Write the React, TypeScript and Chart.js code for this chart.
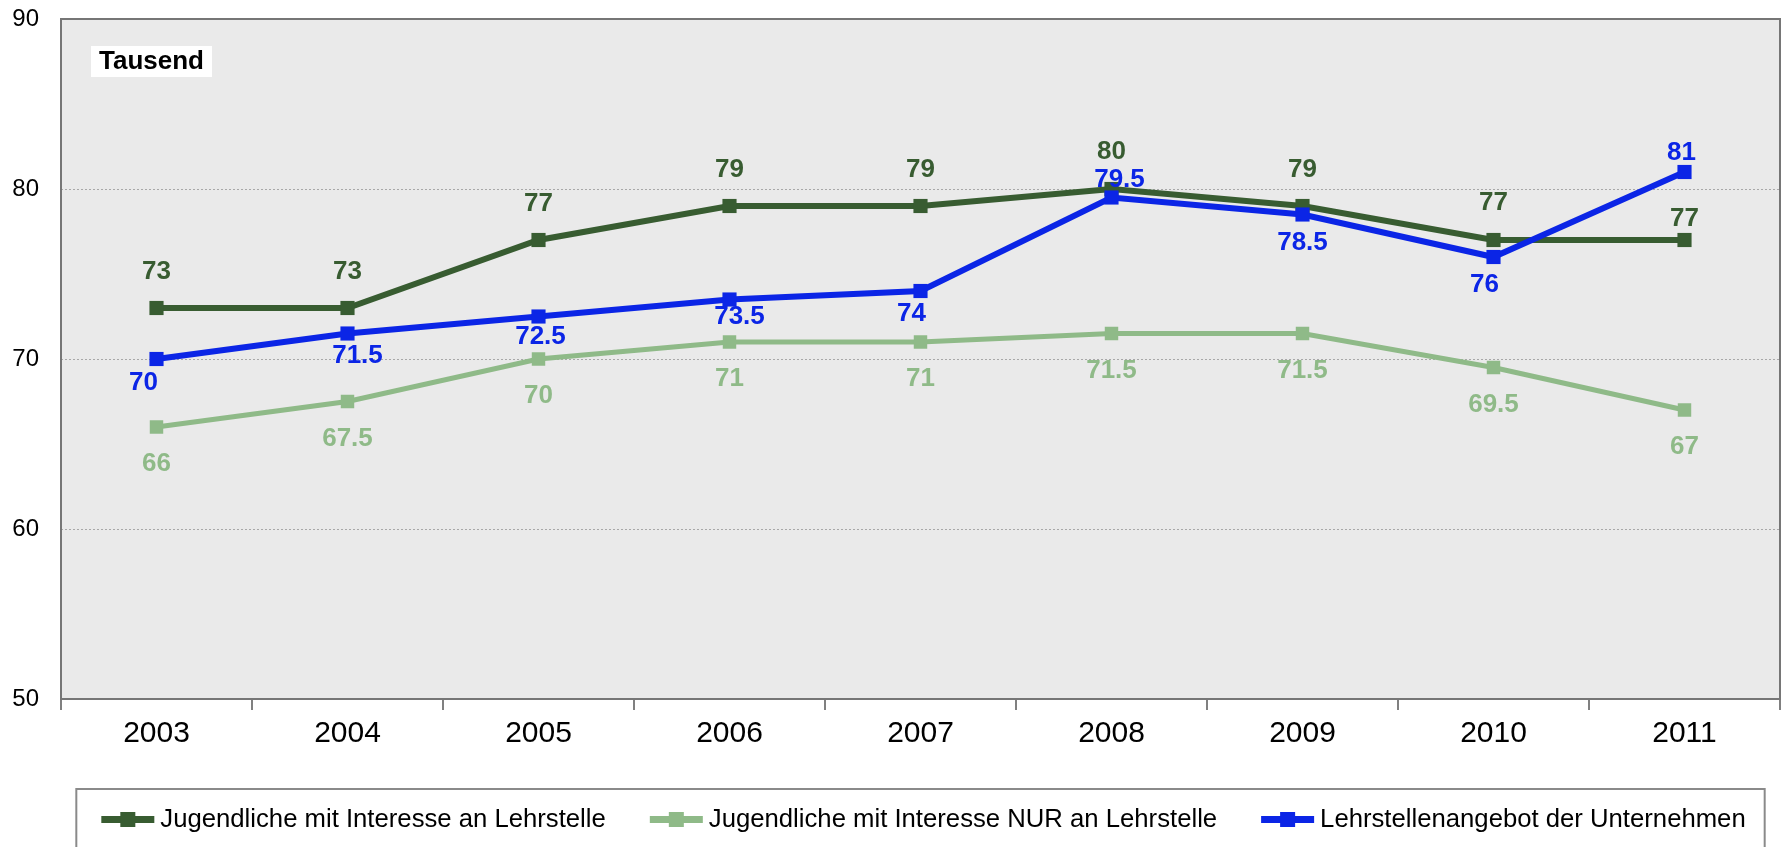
import React, { useEffect, useRef } from 'react';
import { Chart, registerables } from 'chart.js';

Chart.register(...registerables);

// ---- data ----
const years = ['2003', '2004', '2005', '2006', '2007', '2008', '2009', '2010', '2011'];
const interesseLehrstelle = [73, 73, 77, 79, 79, 80, 79, 77, 77];
const interesseNurLehrstelle = [66, 67.5, 70, 71, 71, 71.5, 71.5, 69.5, 67];
const lehrstellenangebot = [70, 71.5, 72.5, 73.5, 74, 79.5, 78.5, 76, 81];
const seriesNames = [
  'Jugendliche mit Interesse an Lehrstelle',
  'Jugendliche mit Interesse NUR an Lehrstelle',
  'Lehrstellenangebot der Unternehmen',
];
const yTickValues = [50, 60, 70, 80, 90];
const unitLabel = 'Tausend';

// ---- style ----
const DARK = '#385c31';
const LIGHT = '#8fba88';
const BLUE = '#0b25e6';
const FONT = '"Liberation Sans", Arial, Helvetica, sans-serif';

// data label placement (pixel offsets from each point), style only
const labelDx = [
  [0, 0, 0, 0, 0, 0, 0, 0, 0],
  [0, 0, 0, 0, 0, 0, 0, 0, 0],
  [-13, 10, 2, 10, -9, 8, 0, -9, -3],
];
const labelDy = [
  [-36, -36, -36, -36, -36, -37, -36, -37, -21],
  [37, 37, 37, 37, 37, 37, 37, 37, 37],
  [24, 22.5, 20, 17, 23, -17.5, 28.5, 28, -19],
];

const chartPlugin = {
  id: 'customDecor',
  beforeDraw(chart: any) {
    const { ctx, chartArea: a } = chart;
    ctx.save();
    ctx.fillStyle = '#eaeaea';
    ctx.fillRect(a.left, a.top, a.right - a.left, a.bottom - a.top);
    ctx.restore();
  },
  beforeDatasetsDraw(chart: any) {
    const { ctx, chartArea: a } = chart;
    ctx.save();
    ctx.strokeStyle = '#767676';
    ctx.lineWidth = 2;
    ctx.strokeRect(a.left, a.top, a.right - a.left, a.bottom - a.top);
    // unit label box
    ctx.font = `bold 26px ${FONT}`;
    const tw = ctx.measureText(unitLabel).width;
    const bx = a.left + 30;
    const by = a.top + 27;
    ctx.fillStyle = '#ffffff';
    ctx.fillRect(bx, by, tw + 16, 31);
    ctx.fillStyle = '#000000';
    ctx.textAlign = 'left';
    ctx.textBaseline = 'middle';
    ctx.fillText(unitLabel, bx + 8, by + 16);
    ctx.restore();
  },
  afterDatasetsDraw(chart: any) {
    const ctx = chart.ctx;
    ctx.save();
    ctx.font = `bold 26px ${FONT}`;
    ctx.textAlign = 'center';
    ctx.textBaseline = 'middle';
    chart.data.datasets.forEach((ds: any, di: number) => {
      const meta = chart.getDatasetMeta(di);
      ctx.fillStyle = ds.borderColor;
      meta.data.forEach((el: any, i: number) => {
        ctx.fillText(String(ds.data[i]), el.x + labelDx[di][i], el.y + labelDy[di][i]);
      });
    });
    ctx.restore();
  },
  afterDraw(chart: any) {
    // legend below the x axis, inside a framed box
    const { ctx, chartArea: a } = chart;
    const xScale = chart.scales.x;
    const markerW = 53;
    const markerGap = 6;
    const itemGap = 44;
    ctx.save();
    ctx.font = `25.7px ${FONT}`;
    const datasets = chart.data.datasets;
    const widths = datasets.map((ds: any) => ctx.measureText(ds.label).width);
    const total =
      widths.reduce((s: number, w: number) => s + w, 0) +
      datasets.length * (markerW + markerGap) +
      (datasets.length - 1) * itemGap;
    const cx = (a.left + a.right) / 2 + 3;
    let x = cx - total / 2;
    const cy = xScale.bottom + 63.5;
    const boxLeft = x - 25;
    const boxRight = x + total + 19;
    const boxTop = cy - 30.5;
    ctx.strokeStyle = '#8a8a8a';
    ctx.lineWidth = 2;
    ctx.strokeRect(boxLeft, boxTop, boxRight - boxLeft, 100);
    ctx.textAlign = 'left';
    ctx.textBaseline = 'middle';
    datasets.forEach((ds: any, i: number) => {
      ctx.fillStyle = ds.borderColor;
      ctx.fillRect(x, cy - 3.5, markerW, 7);
      ctx.fillRect(x + 19, cy - 7.5, 15, 15);
      ctx.fillStyle = '#000000';
      ctx.fillText(ds.label, x + markerW + markerGap, cy);
      x += markerW + markerGap + widths[i] + itemGap;
    });
    ctx.restore();
  },
};

export default function App() {
  const ref = useRef<HTMLCanvasElement>(null);

  useEffect(() => {
    document.body.style.margin = '0';
    const chart = new Chart(ref.current!, {
      type: 'line',
      data: {
        labels: years,
        datasets: [
          {
            label: seriesNames[0],
            data: interesseLehrstelle,
            borderColor: DARK,
            backgroundColor: DARK,
            borderWidth: 6,
            pointStyle: 'rect',
            pointRadius: 10,
            pointBorderWidth: 0,
            pointBackgroundColor: DARK,
            tension: 0,
            order: 2,
          },
          {
            label: seriesNames[1],
            data: interesseNurLehrstelle,
            borderColor: LIGHT,
            backgroundColor: LIGHT,
            borderWidth: 5,
            pointStyle: 'rect',
            pointRadius: 9.5,
            pointBorderWidth: 0,
            pointBackgroundColor: LIGHT,
            tension: 0,
            order: 1,
          },
          {
            label: seriesNames[2],
            data: lehrstellenangebot,
            borderColor: BLUE,
            backgroundColor: BLUE,
            borderWidth: 6,
            pointStyle: 'rect',
            pointRadius: 10,
            pointBorderWidth: 0,
            pointBackgroundColor: BLUE,
            tension: 0,
            order: 0,
          },
        ],
      },
      options: {
        responsive: false,
        animation: false,
        devicePixelRatio: 1,
        events: [],
        layout: { padding: { top: 19, right: 4, left: 0, bottom: 91 } },
        scales: {
          x: {
            offset: true,
            grid: {
              offset: true,
              drawOnChartArea: false,
              drawTicks: true,
              tickLength: 11,
              color: '#808080',
              lineWidth: 2,
            },
            border: { display: false },
            ticks: {
              font: { family: FONT, size: 30 },
              color: '#000000',
              padding: 6,
              maxRotation: 0,
              autoSkip: false,
            },
            afterFit: (s: any) => {
              s.height = 57;
            },
          },
          y: {
            min: 50,
            max: 90,
            afterBuildTicks: (s: any) => {
              s.ticks = yTickValues.map((v) => ({ value: v }));
            },
            grid: {
              drawTicks: true,
              tickLength: 22,
              tickColor: 'rgba(0,0,0,0)',
              color: (c: any) =>
                c.tick && (c.tick.value === 50 || c.tick.value === 90) ? 'rgba(0,0,0,0)' : '#a8a8a8',
              lineWidth: 1,
            },
            border: { display: false, dash: [2, 2] },
            ticks: {
              font: { family: FONT, size: 24 },
              color: '#000000',
              padding: 0,
            },
            afterFit: (s: any) => {
              s.width = 61;
            },
          },
        },
        plugins: {
          tooltip: { enabled: false },
          legend: { display: false },
        },
      },
      plugins: [chartPlugin],
    } as any);
    return () => chart.destroy();
  }, []);

  return (
    <canvas
      ref={ref}
      width={1790}
      height={847}
      style={{ display: 'block', width: '1790px', height: '847px' }}
    />
  );
}
